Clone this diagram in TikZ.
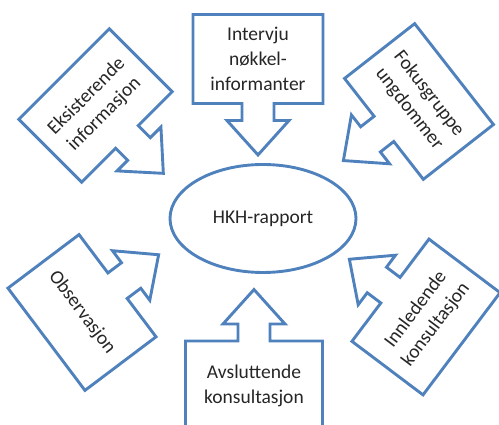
\documentclass[tikz,border=0pt]{standalone}
\usepackage{fontspec}
\setmainfont{Carlito}
\usepackage{xcolor}
\usepackage{tikz}
\usetikzlibrary{positioning,shapes.arrows,shapes.geometric}

\definecolor{boxline}{HTML}{4F81BD}

\tikzset{
    callout/.style={draw=boxline, line width=2.9pt, shape=arrow box, fill=white,
        minimum width=128pt, minimum height=89pt, inner sep=0pt, align=center,
        text=black!85, font=\fontsize{19.5}{25}\selectfont,
        arrow box shaft width=32pt, arrow box head extend=15pt,
        arrow box tip angle=84},
    down/.style={callout, arrow box arrows={south:50pt}},
    up/.style={callout, arrow box arrows={north:50pt}}
}

\begin{document}
\begin{tikzpicture}[x=1pt, y=1pt]
    \useasboundingbox (0,0) rectangle (499,425);
    \clip (0,0) rectangle (499,425);

    % Report
    \node[draw=boxline, line width=2.9pt, ellipse, minimum width=186pt, minimum height=108pt,
        inner sep=0pt, text=black!85, font=\fontsize{19.5}{25}\selectfont] (hkh) at (263,206.5) {HKH-rapport};

    % Inputs above
    \node[down, minimum width=130pt] (intervju) at (258,366) {Intervju\\nøkkel-\\informanter};
    \node[down, rotate=45] (eksist) at (95.5,319.5) {Eksisterende\\informasjon};
    \node[down, rotate=-52] (fokus) at (419,323.5) {Fokusgruppe\\ungdommer};

    % Inputs below
    \node[up, rotate=-53] (obs) at (82,112.5) {Observasjon};
    \node[up, rotate=53] (innl) at (426,108) {Innledende\\konsultasjon};
    \node[up, minimum width=137pt] (avsl) at (254,39.5) {Avsluttende\\konsultasjon};
\end{tikzpicture}
\end{document}
